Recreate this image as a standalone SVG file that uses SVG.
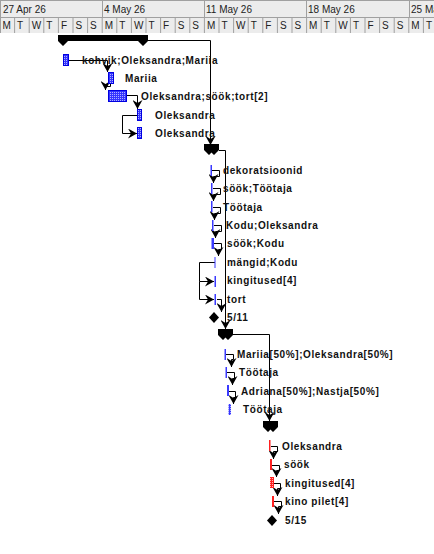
<svg xmlns="http://www.w3.org/2000/svg" width="434" height="554" viewBox="0 0 434 554">
<style>
.hdr{font-family:"Liberation Sans",Arial,sans-serif;font-size:10px;fill:#222}
.lbl{font-family:"Liberation Sans",Arial,sans-serif;font-size:10px;font-weight:bold;fill:#111;letter-spacing:0.6px}
.grid{stroke:#a0a0a0;stroke-width:1;fill:none}
.lnk{stroke:#000;stroke-width:1;fill:none}
.sum{fill:#000}
.bb{fill:url(#hatchB);stroke:#0000e0;stroke-width:1}
.tb{fill:#3a3aff}
.rb{fill:#ff2020}
.ms{fill:#000}
</style>
<defs>
<pattern id="hatchB" width="2" height="2" patternUnits="userSpaceOnUse"><rect width="2" height="2" fill="#3535ff"/><rect width="1" height="1" fill="#b0b0ff"/></pattern>
<pattern id="hatchR" width="2" height="2" patternUnits="userSpaceOnUse"><rect width="2" height="2" fill="#ff2020"/><rect width="1" height="1" fill="#ffb0b0"/></pattern>
<marker id="ah" markerWidth="9" markerHeight="10" refX="9" refY="5" orient="auto" markerUnits="userSpaceOnUse"><path d="M0,0 L9,5 L0,10 L3,5 z" fill="#000"/></marker>
<clipPath id="hclip"><rect x="0" y="0" width="434" height="33"/></clipPath>
</defs>
<rect width="434" height="554" fill="#fff"/>
<g id="timescale" clip-path="url(#hclip)">
<rect x="0" y="0" width="434" height="33" fill="#ececec"/>
<path class="grid" d="M0,0.5H434M0,17.5H434M0,33.5H434M0.5,0V33M102.5,0V17M204.5,0V17M306.5,0V17M409.5,0V17"/>
<path class="grid" d="M14.6,17V33M29.2,17V33M43.8,17V33M58.4,17V33M73,17V33M87.6,17V33M102.2,17V33M116.8,17V33M131.4,17V33M146,17V33M160.6,17V33M175.2,17V33M189.8,17V33M204.4,17V33M219,17V33M233.6,17V33M248.2,17V33M262.8,17V33M277.4,17V33M292,17V33M306.6,17V33M321.2,17V33M335.8,17V33M350.4,17V33M365,17V33M379.6,17V33M394.2,17V33M408.8,17V33M423.4,17V33"/>
<text class="hdr" x="3" y="13">27 Apr 26</text>
<text class="hdr" x="104" y="13">4 May 26</text>
<text class="hdr" x="206" y="13">11 May 26</text>
<text class="hdr" x="308" y="13">18 May 26</text>
<text class="hdr" x="411" y="13">25 May 26</text>
<text class="hdr" x="2.5" y="29">M</text><text class="hdr" x="17.1" y="29">T</text><text class="hdr" x="31.7" y="29">W</text><text class="hdr" x="46.3" y="29">T</text><text class="hdr" x="60.9" y="29">F</text><text class="hdr" x="75.5" y="29">S</text><text class="hdr" x="90.1" y="29">S</text>
<text class="hdr" x="104.7" y="29">M</text><text class="hdr" x="119.3" y="29">T</text><text class="hdr" x="133.9" y="29">W</text><text class="hdr" x="148.5" y="29">T</text><text class="hdr" x="163.1" y="29">F</text><text class="hdr" x="177.7" y="29">S</text><text class="hdr" x="192.3" y="29">S</text>
<text class="hdr" x="206.9" y="29">M</text><text class="hdr" x="221.5" y="29">T</text><text class="hdr" x="236.1" y="29">W</text><text class="hdr" x="250.7" y="29">T</text><text class="hdr" x="265.3" y="29">F</text><text class="hdr" x="279.9" y="29">S</text><text class="hdr" x="294.5" y="29">S</text>
<text class="hdr" x="309.1" y="29">M</text><text class="hdr" x="323.7" y="29">T</text><text class="hdr" x="338.3" y="29">W</text><text class="hdr" x="352.9" y="29">T</text><text class="hdr" x="367.5" y="29">F</text><text class="hdr" x="382.1" y="29">S</text><text class="hdr" x="396.7" y="29">S</text>
<text class="hdr" x="411.3" y="29">M</text><text class="hdr" x="425.9" y="29">T</text>
</g>
<g id="connectors">
<path class="lnk" marker-end="url(#ah)" d="M68,60.5H107.5V72"/>
<path class="lnk" marker-end="url(#ah)" d="M110.5,83V86.5H105.5V90"/>
<path class="lnk" marker-end="url(#ah)" d="M126,95.5H137.5V109"/>
<path class="lnk" marker-end="url(#ah)" d="M137,115.5H122.5V133.5H137"/>
<path class="lnk" marker-end="url(#ah)" d="M148,40.5H210.5V145"/>
<path class="lnk" marker-end="url(#ah)" d="M219,150.5H225.5V329"/>
<path class="lnk" marker-end="url(#ah)" d="M233,334.5H269.5V421"/>
<path class="lnk" marker-end="url(#ah)" d="M212,170.5H219.5V176.5H213.5V183"/>
<path class="lnk" marker-end="url(#ah)" d="M213,188.5H220.5V194.5H213.5V201"/>
<path class="lnk" marker-end="url(#ah)" d="M213,207.5H220.5V213.5H214.5V220"/>
<path class="lnk" marker-end="url(#ah)" d="M214,225.5H221.5V231.5H215.5V238"/>
<path class="lnk" marker-end="url(#ah)" d="M214,243.5H221.5V249.5H218.5V256"/>
<path class="lnk" marker-end="url(#ah)" d="M215,262.5H199.5V281.5H214"/>
<path class="lnk" marker-end="url(#ah)" d="M199.5,281.5V299.5H214"/>
<path class="lnk" marker-end="url(#ah)" d="M217,299.5H221.5V312"/>
<path class="lnk" marker-end="url(#ah)" d="M226,354.5H233.5V359.5H231.5V367"/>
<path class="lnk" marker-end="url(#ah)" d="M227,372.5H234.5V378.5H232.5V385"/>
<path class="lnk" marker-end="url(#ah)" d="M229,391.5H235.5V397.5H233.5V404"/>
<path class="lnk" marker-end="url(#ah)" d="M271,446.5H277.5V451.5H273.5V459"/>
<path class="lnk" marker-end="url(#ah)" d="M272,465.5H279.5V470.5H276.5V477"/>
<path class="lnk" marker-end="url(#ah)" d="M274,483.5H280.5V488.5H277.5V496"/>
<path class="lnk" marker-end="url(#ah)" d="M274,501.5H281.5V506.5H278.5V514"/>
</g>
<g id="summary1"><polygon class="sum" points="58,35 148,35 148,41 143,46 138,41 68,41 63,46 58,41"/></g>
<g id="task-kohvik"><rect class="bb" x="63.5" y="54.5" width="5" height="11"/><text class="lbl" x="82" y="64">kohvik;Oleksandra;Mariia</text></g>
<g id="task-mariia"><rect class="bb" x="108.5" y="72.5" width="5" height="11"/><text class="lbl" x="125" y="82">Mariia</text></g>
<g id="task-soktort"><rect class="bb" x="108.5" y="90.5" width="18" height="11"/><text class="lbl" x="141" y="100">Oleksandra;söök;tort[2]</text></g>
<g id="task-oleks1"><rect class="bb" x="137.5" y="109.5" width="4" height="11"/><text class="lbl" x="155" y="119">Oleksandra</text></g>
<g id="task-oleks2"><rect class="bb" x="137.5" y="127.5" width="4" height="11"/><text class="lbl" x="155" y="137">Oleksandra</text></g>
<g id="summary2"><polygon class="sum" points="204,144 219,144 219,150 214,155 211.5,152.5 209,155 204,150"/></g>
<g id="task-dekor"><rect class="tb" x="210.5" y="165" width="1.5" height="11"/><text class="lbl" x="223" y="174">dekoratsioonid</text></g>
<g id="task-sooktootaja"><rect class="tb" x="211" y="183" width="1.5" height="11"/><text class="lbl" x="223" y="192">söök;Töötaja</text></g>
<g id="task-tootaja1"><rect class="tb" x="211" y="201" width="1.5" height="11"/><text class="lbl" x="223" y="211">Töötaja</text></g>
<g id="task-koduoleks"><rect class="tb" x="212" y="220" width="1.5" height="11"/><text class="lbl" x="226" y="229">Kodu;Oleksandra</text></g>
<g id="task-sookkodu"><rect class="tb" x="211.5" y="238" width="2.5" height="11"/><text class="lbl" x="227" y="247">söök;Kodu</text></g>
<g id="task-mangid"><rect class="tb" x="214.5" y="257" width="1" height="11"/><text class="lbl" x="227" y="266">mängid;Kodu</text></g>
<g id="task-kingitused1"><rect class="tb" x="214.5" y="276" width="1.5" height="11"/><text class="lbl" x="227" y="284">kingitused[4]</text></g>
<g id="task-tort"><rect class="tb" x="214.5" y="294" width="1.5" height="11"/><text class="lbl" x="227" y="303">tort</text></g>
<g id="milestone-511"><polygon class="ms" points="214,312 219,317.5 214,323 209,317.5"/><text class="lbl" x="227" y="321">5/11</text></g>
<g id="summary3"><polygon class="sum" points="218,329 233,329 233,335 228,340 225.5,337.5 223,340 218,335"/></g>
<g id="task-mariiaoleks"><rect class="tb" x="224.5" y="349" width="1.5" height="11"/><text class="lbl" x="237" y="358">Mariia[50%];Oleksandra[50%]</text></g>
<g id="task-tootaja2"><rect class="tb" x="225.5" y="367" width="1.5" height="11"/><text class="lbl" x="239" y="376">Töötaja</text></g>
<g id="task-adriana"><rect class="tb" x="227" y="385" width="2" height="11"/><text class="lbl" x="241" y="395">Adriana[50%];Nastja[50%]</text></g>
<g id="task-tootaja3"><rect x="228.5" y="404" width="2.5" height="11" fill="url(#hatchB)"/><text class="lbl" x="243" y="413">Töötaja</text></g>
<g id="summary4"><polygon class="sum" points="263,421 278,421 278,427 273,432 270.5,429.5 268,432 263,427"/></g>
<g id="task-oleks3"><rect class="rb" x="269" y="440" width="1.5" height="11"/><text class="lbl" x="282" y="450">Oleksandra</text></g>
<g id="task-sook"><rect class="rb" x="270" y="459" width="2" height="11"/><text class="lbl" x="284" y="468">söök</text></g>
<g id="task-kingitused2"><rect x="270" y="477" width="4" height="11" fill="url(#hatchR)"/><text class="lbl" x="285" y="487">kingitused[4]</text></g>
<g id="task-kino"><rect class="rb" x="272" y="496" width="2" height="11"/><text class="lbl" x="285" y="505">kino pilet[4]</text></g>
<g id="milestone-515"><polygon class="ms" points="272,515 277,520.5 272,526 267,520.5"/><text class="lbl" x="285" y="524">5/15</text></g>
</svg>
